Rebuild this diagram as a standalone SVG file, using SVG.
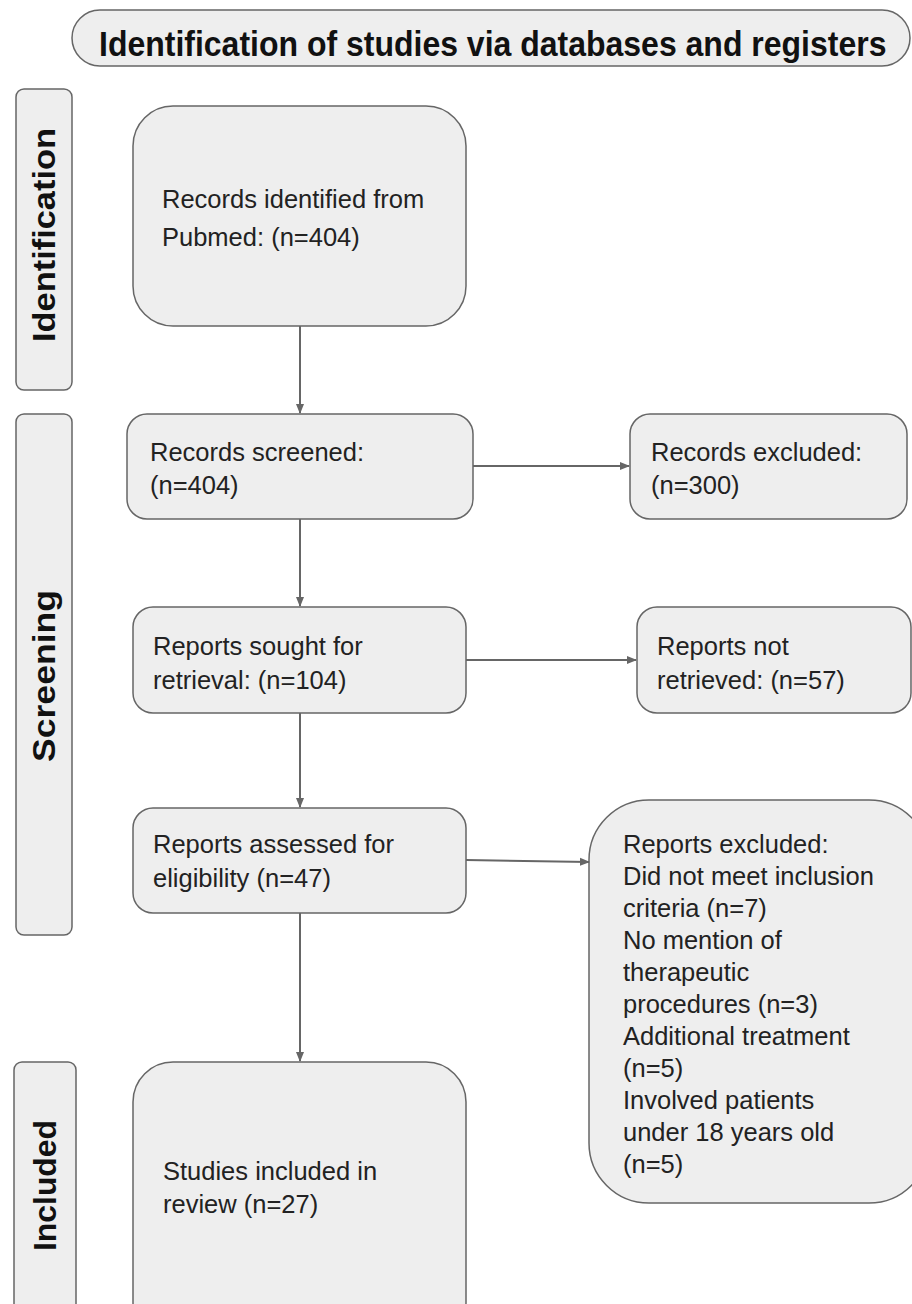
<svg xmlns="http://www.w3.org/2000/svg" width="912" height="1304" viewBox="0 0 912 1304">
<style>
.box{fill:#eeeeee;stroke:#666666;stroke-width:1.5}
.t{font-family:"Liberation Sans",Arial,sans-serif;font-size:25.5px;fill:#222222}
.b{font-family:"Liberation Sans",Arial,sans-serif;font-weight:bold;fill:#111111}
.c{stroke:#666666;stroke-width:2;fill:none}
</style>
<defs>
<marker id="ah" markerWidth="10" markerHeight="10" refX="9" refY="5" orient="auto" markerUnits="userSpaceOnUse">
<path d="M0,1 L10,5 L0,9 Z" fill="#666666"/>
</marker>
</defs>
<rect width="912" height="1304" fill="#ffffff"/>
<g id="title">
<rect class="box" x="72" y="10" width="838" height="56" rx="28"/>
<text class="b" font-size="32" transform="translate(99,56) scale(1,1.1)">Identification of studies via databases and registers</text>
</g>
<g id="lbl-identification">
<rect class="box" x="16" y="89" width="56" height="301" rx="8"/>
<text class="b" font-size="31" transform="translate(55,342) rotate(-90)" textLength="214" lengthAdjust="spacingAndGlyphs">Identification</text>
</g>
<g id="lbl-screening">
<rect class="box" x="16" y="414" width="56" height="521" rx="8"/>
<text class="b" font-size="31" transform="translate(55,762) rotate(-90)" textLength="172" lengthAdjust="spacingAndGlyphs">Screening</text>
</g>
<g id="lbl-included">
<rect class="box" x="14" y="1062" width="62" height="280" rx="8"/>
<text class="b" font-size="31" transform="translate(56,1251) rotate(-90)" textLength="131" lengthAdjust="spacingAndGlyphs">Included</text>
</g>
<g id="n1">
<rect class="box" x="133" y="106" width="333" height="220" rx="40"/>
<text class="t" x="162" y="208">Records identified from</text>
<text class="t" x="162" y="246">Pubmed: (n=404)</text>
</g>
<g id="n2">
<rect class="box" x="127" y="414" width="346" height="105" rx="20"/>
<text class="t" x="150" y="461">Records screened:</text>
<text class="t" x="150" y="494">(n=404)</text>
</g>
<g id="n3">
<rect class="box" x="630" y="414" width="277" height="105" rx="20"/>
<text class="t" x="651" y="461">Records excluded:</text>
<text class="t" x="651" y="494">(n=300)</text>
</g>
<g id="n4">
<rect class="box" x="133" y="607" width="333" height="106" rx="20"/>
<text class="t" x="153" y="655">Reports sought for</text>
<text class="t" x="153" y="689">retrieval: (n=104)</text>
</g>
<g id="n5">
<rect class="box" x="637" y="607" width="274" height="106" rx="20"/>
<text class="t" x="657" y="655">Reports not</text>
<text class="t" x="657" y="689">retrieved: (n=57)</text>
</g>
<g id="n6">
<rect class="box" x="133" y="808" width="333" height="105" rx="20"/>
<text class="t" x="153" y="853">Reports assessed for</text>
<text class="t" x="153" y="887">eligibility (n=47)</text>
</g>
<g id="n7">
<rect class="box" x="589" y="800" width="340" height="403" rx="60"/>
<text class="t" x="623" y="853">Reports excluded:</text>
<text class="t" x="623" y="885">Did not meet inclusion</text>
<text class="t" x="623" y="917">criteria (n=7)</text>
<text class="t" x="623" y="949">No mention of</text>
<text class="t" x="623" y="981">therapeutic</text>
<text class="t" x="623" y="1013">procedures (n=3)</text>
<text class="t" x="623" y="1045">Additional treatment</text>
<text class="t" x="623" y="1077">(n=5)</text>
<text class="t" x="623" y="1109">Involved patients</text>
<text class="t" x="623" y="1141">under 18 years old</text>
<text class="t" x="623" y="1173">(n=5)</text>
</g>
<g id="n8">
<rect class="box" x="133" y="1062" width="333" height="280" rx="40"/>
<text class="t" x="163" y="1180">Studies included in</text>
<text class="t" x="163" y="1213">review (n=27)</text>
</g>
<g id="connectors">
<line class="c" x1="300" y1="326" x2="300" y2="413" marker-end="url(#ah)"/>
<line class="c" x1="300" y1="519" x2="300" y2="606" marker-end="url(#ah)"/>
<line class="c" x1="300" y1="713" x2="300" y2="807" marker-end="url(#ah)"/>
<line class="c" x1="300" y1="913" x2="300" y2="1061" marker-end="url(#ah)"/>
<line class="c" x1="473" y1="466" x2="629" y2="466" marker-end="url(#ah)"/>
<line class="c" x1="466" y1="660" x2="636" y2="660" marker-end="url(#ah)"/>
<line class="c" x1="466" y1="860" x2="589" y2="862" marker-end="url(#ah)"/>
</g>
</svg>
